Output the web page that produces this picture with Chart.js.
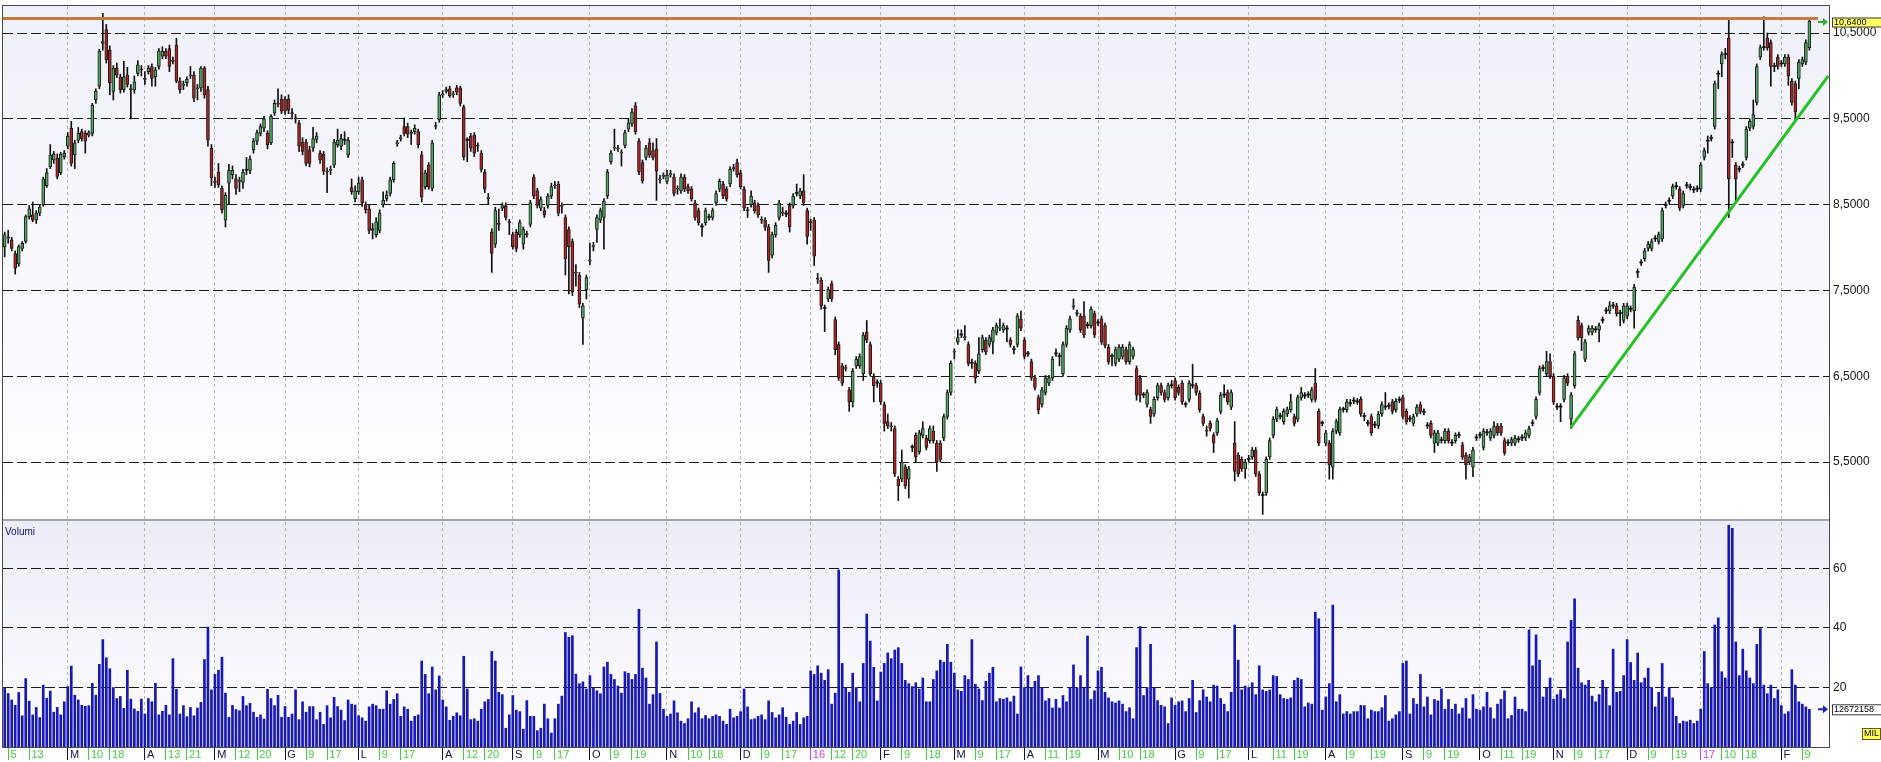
<!DOCTYPE html>
<html>
<head>
<meta charset="utf-8">
<title>Candele giornaliere - MIL</title>
<script src="https://cdn.jsdelivr.net/npm/chart.js@4.4.1/dist/chart.umd.min.js"></script>
<style>
  html, body { margin: 0; padding: 0; background: #fff; }
  #wrap { width: 1881px; height: 762px; }
</style>
</head>
<body>
<div id="wrap"><canvas id="grafico" width="1881" height="762"></canvas></div>
<script>
// prezzi giornalieri, feb 2015 -> feb 2017 (una candela per seduta)
const opens = [
  8.01, 8.12, 8.09, 7.93, 7.81, 7.99, 8.07, 8.36, 8.38, 8.32,
  8.40, 8.50, 8.72, 8.94, 9.02, 9.04, 8.87, 9.06, 9.18, 9.39,
  9.08, 9.25, 9.35, 9.33, 9.31, 9.33, 9.72, 9.88, 10.38, 10.54,
  10.30, 9.82, 10.09, 9.99, 9.84, 10.01, 9.85, 9.84, 10.03, 10.08,
  9.97, 10.05, 10.11, 9.99, 10.11, 10.23, 10.29, 10.32, 10.18, 10.36,
  9.94, 9.89, 9.92, 10.00, 10.01, 9.85, 9.86, 10.09, 9.84, 9.16,
  8.77, 8.88, 8.69, 8.32, 8.75, 8.85, 8.80, 8.77, 8.76, 8.90,
  8.90, 9.14, 9.24, 9.33, 9.39, 9.33, 9.22, 9.57, 9.68, 9.73,
  9.73, 9.73, 9.57, 9.51, 9.45, 9.23, 9.23, 9.14, 9.16, 9.26,
  9.10, 9.09, 8.89, 8.90, 8.96, 9.20, 9.18, 9.25, 9.08, 8.70,
  8.57, 8.65, 8.79, 8.50, 8.45, 8.22, 8.15, 8.20, 8.50, 8.57,
  8.63, 8.79, 9.21, 9.27, 9.41, 9.41, 9.34, 9.35, 9.35, 9.08,
  8.71, 8.96, 8.69, 9.41, 9.49, 9.78, 9.82, 9.85, 9.78, 9.86,
  9.86, 9.64, 9.25, 9.30, 9.31, 9.19, 9.10, 8.88, 8.58, 8.18,
  8.04, 8.28, 8.46, 8.49, 8.30, 8.15, 8.18, 8.15, 8.04, 8.16,
  8.27, 8.82, 8.66, 8.46, 8.43, 8.49, 8.60, 8.73, 8.74, 8.48,
  8.35, 8.21, 8.07, 7.71, 7.68, 7.18, 7.51, 7.84, 8.01, 8.21,
  8.32, 8.35, 8.60, 9.00, 9.16, 9.16, 9.10, 9.19, 9.38, 9.44,
  9.65, 9.24, 8.99, 9.05, 9.22, 9.13, 9.15, 8.79, 8.83, 8.77,
  8.85, 8.82, 8.69, 8.66, 8.82, 8.71, 8.68, 8.52, 8.43, 8.24,
  8.29, 8.35, 8.35, 8.52, 8.68, 8.74, 8.68, 8.74, 8.93, 8.99,
  8.87, 8.68, 8.44, 8.50, 8.52, 8.49, 8.33, 8.32, 8.24, 7.91,
  8.15, 8.35, 8.41, 8.39, 8.49, 8.49, 8.63, 8.60, 8.66, 8.43,
  8.30, 8.32, 7.64, 7.62, 7.29, 7.40, 7.58, 7.16, 6.87, 6.62,
  6.59, 6.34, 6.20, 6.62, 6.62, 6.53, 7.01, 6.87, 6.50, 6.42,
  6.42, 6.17, 5.97, 5.92, 5.89, 5.30, 5.30, 5.44, 5.30, 5.67,
  5.81, 5.62, 5.81, 5.78, 5.75, 5.86, 5.72, 5.72, 5.78, 6.03,
  6.31, 6.78, 6.90, 6.98, 6.95, 6.87, 6.65, 6.65, 6.56, 6.81,
  6.92, 6.87, 6.90, 7.01, 7.06, 7.04, 7.05, 6.92, 6.81, 6.87,
  7.17, 6.92, 6.76, 6.67, 6.48, 6.25, 6.17, 6.31, 6.42, 6.48,
  6.76, 6.73, 6.53, 6.87, 7.04, 7.31, 7.24, 7.20, 7.20, 7.09,
  7.09, 7.23, 7.12, 7.17, 7.09, 6.84, 6.73, 6.65, 6.70, 6.73,
  6.81, 6.67, 6.73, 6.59, 6.48, 6.28, 6.17, 6.11, 6.06, 6.25,
  6.39, 6.31, 6.25, 6.39, 6.45, 6.37, 6.42, 6.17, 6.23, 6.39,
  6.39, 6.30, 6.03, 5.87, 5.95, 5.81, 5.84, 6.09, 6.28, 6.31,
  6.14, 5.72, 5.58, 5.53, 5.42, 5.53, 5.56, 5.64, 5.36, 5.11,
  5.14, 5.56, 5.81, 6.00, 6.03, 5.97, 6.06, 6.11, 6.03, 6.00,
  6.25, 6.27, 6.28, 6.23, 6.42, 6.09, 5.95, 5.72, 5.72, 5.44,
  5.86, 5.84, 6.11, 6.11, 6.18, 6.21, 6.20, 6.23, 6.03, 5.95,
  6.03, 5.93, 5.92, 6.06, 6.14, 6.15, 6.20, 6.11, 6.22, 6.25,
  6.09, 6.00, 5.95, 6.06, 6.17, 6.08, 5.92, 5.95, 5.72, 5.72,
  5.75, 5.75, 5.86, 5.72, 5.75, 5.81, 5.70, 5.58, 5.50, 5.44,
  5.78, 5.81, 5.67, 5.84, 5.78, 5.81, 5.92, 5.92, 5.75, 5.72,
  5.72, 5.72, 5.76, 5.78, 5.78, 5.81, 5.95, 6.03, 6.31, 6.59,
  6.53, 6.67, 6.50, 6.14, 6.14, 6.23, 6.50, 6.00, 6.39, 7.15,
  7.09, 6.70, 7.01, 7.01, 7.04, 7.04, 7.15, 7.26, 7.26, 7.32,
  7.32, 7.23, 7.15, 7.20, 7.28, 7.26, 7.71, 7.82, 7.87, 7.99,
  7.99, 8.10, 8.07, 8.10, 8.49, 8.54, 8.60, 8.71, 8.68, 8.49,
  8.72, 8.70, 8.67, 8.68, 8.68, 9.05, 9.24, 9.27, 9.41, 10.02,
  10.14, 10.25, 10.44, 9.22, 8.96, 8.91, 8.96, 9.05, 9.39, 9.41,
  9.69, 10.22, 10.33, 10.44, 10.39, 10.11, 10.22, 10.14, 10.14, 10.22,
  9.94, 9.91, 9.97, 10.14, 10.16, 10.33
];
const highs = [
  8.18, 8.20, 8.12, 7.96, 8.03, 8.07, 8.38, 8.49, 8.53, 8.43,
  8.50, 8.82, 8.92, 9.20, 9.12, 9.09, 9.11, 9.13, 9.34, 9.47,
  9.25, 9.40, 9.38, 9.36, 9.36, 9.68, 9.85, 10.31, 10.73, 10.60,
  10.35, 10.12, 10.15, 10.02, 10.17, 10.10, 9.90, 10.00, 10.18, 10.12,
  10.05, 10.12, 10.14, 10.10, 10.32, 10.34, 10.32, 10.36, 10.22, 10.44,
  9.98, 9.94, 9.99, 10.11, 10.05, 9.90, 10.11, 10.11, 9.88, 9.20,
  8.82, 8.98, 8.72, 8.64, 8.97, 8.95, 8.85, 8.82, 8.91, 9.05,
  9.07, 9.27, 9.37, 9.44, 9.53, 9.36, 9.55, 9.72, 9.85, 9.78,
  9.76, 9.78, 9.62, 9.55, 9.48, 9.28, 9.26, 9.18, 9.40, 9.34,
  9.13, 9.12, 8.93, 8.95, 9.26, 9.38, 9.32, 9.35, 9.28, 8.80,
  8.72, 8.82, 8.82, 8.53, 8.50, 8.28, 8.35, 8.44, 8.65, 8.66,
  8.82, 9.00, 9.25, 9.31, 9.51, 9.45, 9.37, 9.43, 9.38, 9.12,
  8.90, 8.99, 9.25, 9.46, 9.81, 9.83, 9.87, 9.88, 9.82, 9.89,
  9.88, 9.66, 9.28, 9.33, 9.34, 9.22, 9.13, 8.91, 8.63, 8.22,
  8.47, 8.45, 8.52, 8.52, 8.33, 8.18, 8.21, 8.32, 8.24, 8.19,
  8.55, 8.85, 8.69, 8.59, 8.47, 8.63, 8.75, 8.77, 8.77, 8.52,
  8.38, 8.24, 8.10, 7.80, 7.71, 7.35, 7.68, 8.05, 8.06, 8.38,
  8.46, 8.57, 8.91, 9.13, 9.38, 9.19, 9.14, 9.37, 9.50, 9.62,
  9.69, 9.27, 9.02, 9.19, 9.27, 9.22, 9.27, 8.84, 8.87, 8.90,
  8.90, 8.86, 8.72, 8.86, 8.85, 8.74, 8.71, 8.55, 8.46, 8.28,
  8.46, 8.39, 8.46, 8.66, 8.80, 8.77, 8.71, 8.94, 8.97, 9.03,
  8.90, 8.71, 8.47, 8.66, 8.55, 8.52, 8.36, 8.35, 8.27, 8.18,
  8.29, 8.55, 8.47, 8.43, 8.52, 8.63, 8.74, 8.69, 8.85, 8.46,
  8.33, 8.35, 7.70, 7.65, 7.33, 7.54, 7.61, 7.19, 6.90, 6.65,
  6.63, 6.37, 6.59, 6.73, 6.76, 7.01, 7.15, 6.90, 6.53, 6.46,
  6.45, 6.20, 6.06, 5.96, 5.92, 5.33, 5.64, 5.47, 5.45, 5.70,
  5.84, 5.87, 5.97, 5.81, 5.92, 5.92, 5.75, 5.75, 6.06, 6.34,
  6.68, 6.82, 7.04, 7.04, 7.09, 6.90, 6.70, 6.68, 6.95, 6.98,
  6.95, 6.98, 7.07, 7.12, 7.17, 7.12, 7.09, 6.95, 6.85, 7.23,
  7.26, 6.95, 6.79, 6.70, 6.51, 6.28, 6.37, 6.51, 6.51, 6.73,
  6.82, 6.77, 6.90, 7.09, 7.20, 7.40, 7.27, 7.23, 7.37, 7.13,
  7.31, 7.26, 7.16, 7.20, 7.12, 6.87, 6.76, 6.84, 6.87, 6.87,
  6.84, 6.90, 6.84, 6.62, 6.51, 6.31, 6.34, 6.14, 6.26, 6.42,
  6.42, 6.34, 6.42, 6.45, 6.48, 6.40, 6.45, 6.20, 6.45, 6.64,
  6.42, 6.33, 6.06, 5.92, 5.98, 5.84, 6.01, 6.31, 6.40, 6.34,
  6.34, 5.97, 5.61, 5.56, 5.53, 5.58, 5.67, 5.67, 5.39, 5.15,
  5.56, 5.78, 6.03, 6.14, 6.07, 6.12, 6.14, 6.29, 6.06, 6.28,
  6.37, 6.31, 6.32, 6.37, 6.59, 6.12, 5.98, 5.87, 5.75, 5.89,
  6.00, 6.14, 6.14, 6.23, 6.23, 6.25, 6.24, 6.26, 6.07, 5.99,
  6.06, 5.97, 6.09, 6.20, 6.31, 6.19, 6.23, 6.24, 6.26, 6.28,
  6.12, 6.04, 6.06, 6.17, 6.20, 6.12, 5.96, 5.98, 5.87, 5.87,
  5.79, 5.89, 5.89, 5.76, 5.84, 5.85, 5.73, 5.61, 5.59, 5.67,
  5.82, 5.85, 5.89, 5.88, 5.89, 5.97, 5.95, 5.95, 5.78, 5.76,
  5.79, 5.81, 5.80, 5.82, 5.87, 5.92, 5.99, 6.26, 6.62, 6.63,
  6.79, 6.76, 6.53, 6.18, 6.18, 6.51, 6.53, 6.31, 6.79, 7.20,
  7.12, 6.93, 7.09, 7.09, 7.08, 7.12, 7.19, 7.30, 7.37, 7.36,
  7.35, 7.27, 7.35, 7.35, 7.32, 7.57, 7.75, 7.86, 7.99, 8.07,
  8.10, 8.14, 8.18, 8.46, 8.53, 8.58, 8.74, 8.76, 8.71, 8.66,
  8.76, 8.74, 8.71, 8.72, 8.99, 9.16, 9.30, 9.31, 9.94, 10.06,
  10.28, 10.32, 10.67, 9.26, 8.99, 8.95, 9.00, 9.41, 9.50, 9.72,
  10.14, 10.36, 10.69, 10.50, 10.42, 10.15, 10.25, 10.18, 10.25, 10.25,
  9.97, 9.94, 10.19, 10.22, 10.42, 10.67
];
const lows = [
  7.89, 8.05, 7.96, 7.69, 7.78, 7.96, 8.05, 8.33, 8.30, 8.28,
  8.37, 8.48, 8.70, 8.92, 8.98, 8.80, 8.85, 9.03, 9.15, 8.95,
  8.92, 9.22, 9.24, 9.10, 9.29, 9.30, 9.68, 9.85, 10.30, 10.15,
  9.78, 9.72, 9.98, 9.80, 9.81, 9.87, 9.50, 9.80, 10.00, 10.00,
  9.90, 10.02, 9.88, 9.88, 10.08, 10.20, 10.20, 10.05, 10.14, 9.92,
  9.80, 9.84, 9.88, 9.97, 9.70, 9.72, 9.82, 9.74, 9.18, 8.72,
  8.70, 8.70, 8.40, 8.24, 8.50, 8.80, 8.62, 8.65, 8.69, 8.85,
  8.86, 9.10, 9.20, 9.30, 9.35, 9.15, 9.20, 9.54, 9.64, 9.56,
  9.55, 9.56, 9.50, 9.45, 9.12, 9.08, 8.95, 8.94, 9.12, 9.22,
  8.98, 8.85, 8.64, 8.85, 8.93, 9.17, 9.14, 9.20, 9.05, 8.62,
  8.53, 8.62, 8.48, 8.40, 8.16, 8.10, 8.12, 8.17, 8.47, 8.54,
  8.60, 8.76, 9.18, 9.24, 9.30, 9.28, 9.20, 9.32, 9.16, 8.53,
  8.68, 8.68, 8.66, 9.38, 9.46, 9.75, 9.80, 9.75, 9.75, 9.78,
  9.65, 9.02, 9.00, 9.12, 9.06, 9.12, 8.88, 8.64, 8.50, 7.71,
  8.00, 8.20, 8.43, 8.32, 8.15, 7.98, 7.95, 8.12, 7.98, 8.12,
  8.24, 8.57, 8.46, 8.43, 8.35, 8.46, 8.57, 8.69, 8.37, 8.40,
  7.68, 7.46, 7.44, 7.55, 7.30, 6.87, 7.40, 7.80, 7.96, 8.06,
  8.29, 7.98, 8.57, 8.97, 9.13, 9.12, 8.95, 9.16, 9.35, 9.41,
  9.32, 8.85, 8.75, 9.02, 9.05, 9.02, 8.55, 8.75, 8.80, 8.74,
  8.82, 8.60, 8.62, 8.63, 8.65, 8.63, 8.54, 8.32, 8.26, 8.13,
  8.26, 8.32, 8.32, 8.49, 8.65, 8.57, 8.54, 8.71, 8.89, 8.82,
  8.68, 8.43, 8.35, 8.47, 8.40, 8.35, 8.28, 8.20, 7.71, 7.88,
  8.12, 8.32, 8.37, 8.36, 8.18, 8.46, 8.60, 8.57, 8.49, 8.04,
  8.20, 7.79, 7.58, 7.28, 7.02, 7.37, 7.37, 6.75, 6.45, 6.39,
  6.56, 6.09, 6.14, 6.59, 6.59, 6.45, 6.89, 6.50, 6.20, 6.37,
  6.17, 5.86, 5.89, 5.86, 5.33, 5.05, 5.27, 5.19, 5.08, 5.62,
  5.50, 5.59, 5.78, 5.64, 5.72, 5.72, 5.39, 5.50, 5.75, 6.00,
  6.28, 6.70, 6.87, 6.95, 6.92, 6.62, 6.59, 6.42, 6.53, 6.78,
  6.75, 6.84, 6.76, 6.98, 7.03, 7.01, 6.90, 6.84, 6.76, 6.84,
  7.03, 6.70, 6.73, 6.45, 6.34, 6.06, 6.14, 6.28, 6.39, 6.45,
  6.73, 6.62, 6.50, 6.84, 7.01, 7.28, 7.20, 7.01, 6.95, 7.06,
  7.06, 6.95, 7.09, 6.87, 6.83, 6.64, 6.62, 6.62, 6.67, 6.70,
  6.64, 6.64, 6.70, 6.22, 6.20, 6.25, 6.14, 5.95, 6.03, 6.22,
  6.28, 6.20, 6.22, 6.36, 6.22, 6.28, 6.17, 6.14, 6.20, 6.36,
  6.28, 6.08, 5.92, 5.80, 5.86, 5.61, 5.81, 6.06, 6.25, 6.17,
  6.11, 5.28, 5.33, 5.39, 5.31, 5.50, 5.53, 5.33, 5.11, 4.89,
  5.11, 5.53, 5.78, 5.97, 6.00, 5.94, 6.03, 6.08, 5.92, 5.97,
  6.22, 6.24, 6.25, 6.20, 6.20, 5.69, 5.92, 5.69, 5.30, 5.30,
  5.83, 5.81, 6.08, 6.08, 6.15, 6.18, 6.17, 6.03, 5.98, 5.92,
  5.81, 5.90, 5.89, 6.03, 6.11, 6.12, 6.06, 6.08, 6.19, 6.00,
  5.94, 5.97, 5.92, 6.03, 6.06, 6.05, 5.89, 5.78, 5.61, 5.69,
  5.72, 5.72, 5.72, 5.69, 5.72, 5.78, 5.53, 5.30, 5.47, 5.33,
  5.75, 5.78, 5.64, 5.81, 5.75, 5.78, 5.81, 5.81, 5.58, 5.69,
  5.69, 5.69, 5.73, 5.75, 5.75, 5.78, 5.92, 6.00, 6.28, 6.56,
  6.50, 6.47, 6.17, 6.11, 5.97, 6.20, 6.39, 5.89, 6.36, 6.92,
  6.80, 6.67, 6.98, 6.98, 7.01, 6.90, 7.12, 7.23, 7.23, 7.29,
  7.20, 7.09, 7.12, 7.17, 7.25, 7.06, 7.65, 7.79, 7.84, 7.96,
  7.96, 8.07, 8.04, 8.07, 8.46, 8.51, 8.57, 8.68, 8.43, 8.46,
  8.69, 8.67, 8.64, 8.65, 8.65, 9.02, 9.10, 9.24, 9.38, 9.85,
  9.99, 10.20, 8.35, 9.05, 8.54, 8.88, 8.93, 9.02, 9.36, 9.38,
  9.66, 10.19, 10.30, 10.30, 9.88, 10.05, 10.08, 10.11, 10.11, 9.89,
  9.66, 9.47, 9.85, 10.11, 10.13, 10.30
];
const closes = [
  8.15, 8.11, 7.99, 7.76, 8.01, 8.05, 8.36, 8.45, 8.32, 8.40,
  8.47, 8.80, 8.87, 9.08, 9.09, 8.83, 9.09, 9.10, 9.30, 8.98,
  9.22, 9.33, 9.27, 9.24, 9.34, 9.66, 9.82, 10.29, 10.40, 10.19,
  9.92, 10.09, 10.01, 9.84, 9.99, 9.90, 9.84, 9.93, 10.13, 10.07,
  9.96, 10.09, 9.97, 10.07, 10.29, 10.29, 10.23, 10.11, 10.17, 9.94,
  9.84, 9.90, 9.96, 10.01, 9.74, 9.86, 10.09, 9.78, 9.25, 8.81,
  8.76, 8.73, 8.44, 8.61, 8.90, 8.90, 8.69, 8.78, 8.88, 8.90,
  9.03, 9.24, 9.34, 9.41, 9.50, 9.20, 9.53, 9.68, 9.67, 9.59,
  9.59, 9.60, 9.56, 9.50, 9.18, 9.12, 8.98, 8.98, 9.27, 9.30,
  9.02, 8.89, 8.88, 8.91, 9.23, 9.25, 9.27, 9.25, 9.25, 8.65,
  8.66, 8.75, 8.52, 8.44, 8.20, 8.20, 8.30, 8.40, 8.55, 8.61,
  8.79, 8.98, 9.22, 9.28, 9.33, 9.32, 9.33, 9.39, 9.20, 8.59,
  8.87, 8.71, 9.22, 9.42, 9.78, 9.79, 9.84, 9.77, 9.79, 9.81,
  9.68, 9.06, 9.25, 9.16, 9.10, 9.18, 8.91, 8.68, 8.57, 7.93,
  8.43, 8.27, 8.49, 8.35, 8.29, 8.01, 7.99, 8.29, 8.21, 8.15,
  8.52, 8.60, 8.49, 8.56, 8.38, 8.60, 8.71, 8.72, 8.40, 8.49,
  7.87, 8.01, 7.48, 7.70, 7.34, 7.32, 7.65, 7.85, 8.02, 8.35,
  8.43, 8.54, 8.88, 9.10, 9.17, 9.15, 9.11, 9.34, 9.45, 9.58,
  9.35, 8.88, 8.78, 9.16, 9.08, 9.05, 8.89, 8.80, 8.84, 8.84,
  8.86, 8.63, 8.68, 8.82, 8.68, 8.66, 8.57, 8.35, 8.29, 8.24,
  8.43, 8.35, 8.43, 8.63, 8.77, 8.60, 8.57, 8.91, 8.92, 8.85,
  8.71, 8.46, 8.43, 8.60, 8.43, 8.38, 8.32, 8.24, 7.85, 8.15,
  8.26, 8.52, 8.40, 8.39, 8.24, 8.60, 8.63, 8.66, 8.52, 8.13,
  8.29, 7.90, 7.63, 7.32, 7.29, 7.51, 7.40, 6.81, 6.48, 6.42,
  6.60, 6.20, 6.56, 6.70, 6.73, 6.98, 6.92, 6.53, 6.39, 6.42,
  6.20, 5.95, 5.92, 5.91, 5.36, 5.22, 5.50, 5.22, 5.42, 5.67,
  5.56, 5.84, 5.89, 5.67, 5.89, 5.75, 5.50, 5.53, 6.03, 6.31,
  6.65, 6.79, 6.95, 6.98, 6.96, 6.65, 6.65, 6.48, 6.76, 6.95,
  6.78, 6.95, 7.04, 7.09, 7.07, 7.09, 7.05, 6.87, 6.81, 7.20,
  7.06, 6.73, 6.76, 6.48, 6.37, 6.11, 6.34, 6.48, 6.48, 6.70,
  6.76, 6.73, 6.87, 7.06, 7.17, 7.32, 7.23, 7.04, 6.98, 7.09,
  7.28, 6.98, 7.12, 6.90, 6.86, 6.67, 6.73, 6.81, 6.84, 6.84,
  6.67, 6.87, 6.81, 6.28, 6.28, 6.28, 6.31, 6.03, 6.23, 6.39,
  6.31, 6.23, 6.39, 6.39, 6.25, 6.31, 6.20, 6.17, 6.42, 6.39,
  6.31, 6.11, 5.95, 5.86, 5.89, 5.72, 5.98, 6.28, 6.28, 6.20,
  6.31, 5.39, 5.36, 5.42, 5.50, 5.53, 5.64, 5.36, 5.14, 5.11,
  5.53, 5.75, 6.00, 6.11, 6.03, 6.09, 6.11, 6.20, 5.95, 6.25,
  6.31, 6.27, 6.28, 6.34, 6.23, 5.72, 5.95, 5.84, 5.47, 5.86,
  5.97, 6.11, 6.11, 6.20, 6.18, 6.21, 6.20, 6.06, 6.03, 5.95,
  5.84, 5.93, 6.06, 6.17, 6.14, 6.15, 6.09, 6.21, 6.22, 6.03,
  5.97, 6.00, 6.03, 6.14, 6.09, 6.08, 5.92, 5.81, 5.84, 5.84,
  5.75, 5.86, 5.75, 5.72, 5.81, 5.81, 5.56, 5.47, 5.56, 5.64,
  5.78, 5.81, 5.86, 5.84, 5.86, 5.92, 5.84, 5.84, 5.61, 5.72,
  5.76, 5.78, 5.76, 5.78, 5.84, 5.89, 5.95, 6.23, 6.59, 6.59,
  6.67, 6.50, 6.20, 6.14, 6.14, 6.48, 6.42, 6.28, 6.76, 6.95,
  6.95, 6.90, 7.06, 7.06, 7.04, 7.09, 7.15, 7.26, 7.32, 7.32,
  7.23, 7.23, 7.32, 7.32, 7.28, 7.54, 7.71, 7.82, 7.96, 8.04,
  8.07, 8.10, 8.15, 8.43, 8.49, 8.54, 8.71, 8.71, 8.46, 8.63,
  8.72, 8.70, 8.67, 8.68, 8.96, 9.13, 9.24, 9.27, 9.91, 10.02,
  10.25, 10.25, 8.80, 9.22, 8.80, 8.91, 8.96, 9.38, 9.47, 9.55,
  10.11, 10.33, 10.33, 10.33, 10.11, 10.11, 10.11, 10.14, 10.22, 10.00,
  9.69, 9.58, 10.16, 10.19, 10.39, 10.64
];
// volumi in milioni di pezzi
const volumes = [
  20, 18, 15.8, 14, 18.3, 10.5, 23, 15.4, 10.8, 13.3,
  9.9, 20.8, 16.4, 18.8, 11.7, 13.3, 10.8, 15.2, 20.3, 27.2,
  17.4, 15.8, 14, 13.7, 13.9, 21.4, 17.4, 27.8, 36.1, 30,
  26.3, 20, 16.3, 17, 13, 25.8, 16.1, 12.8, 12, 16.1,
  11.1, 16.3, 15.2, 21.4, 10.8, 12, 14, 10.8, 29.7, 19.4,
  11.1, 13.9, 10.2, 13.3, 10.5, 13.1, 15, 29.4, 40.3, 19.2,
  24.4, 25.8, 30.2, 18.1, 10, 14, 12.6, 12.2, 17, 13.9,
  14.7, 11.7, 10, 10.8, 9.4, 19.4, 16.3, 13.9, 17.4, 10,
  13.6, 10, 11.1, 19.2, 9.2, 15.2, 11.7, 13.6, 13.6, 9.2,
  11.7, 7.6, 13.9, 9.8, 16.7, 13.6, 12.4, 8.9, 15.8, 14.4,
  14.1, 10.5, 9.8, 8.7, 13.5, 14.4, 13.9, 12.7, 12.7, 18.9,
  14.4, 16, 17.9, 10.3, 13.5, 12.7, 8.7, 10.3, 10.8, 28.9,
  24.4, 17.9, 26.9, 19.2, 23.9, 15.8, 13.5, 9, 10.3, 11.5,
  10.5, 30.5, 19.5, 9.2, 9.5, 8.7, 12.7, 15.2, 16, 32.1,
  28.9, 18.4, 17.6, 6.3, 10.8, 17.3, 12.4, 11.9, 6, 15.6,
  10.3, 10.3, 5.5, 6.3, 14.4, 9.5, 4.7, 9.5, 14.4, 17.1,
  38.5, 36.9, 37.4, 24.5, 21.3, 21.9, 19.5, 24, 20, 18.9,
  17.9, 26.9, 28.5, 24.4, 22.7, 20.5, 18.1, 25.3, 24.8, 22.7,
  24.4, 46.3, 26.5, 23.2, 14.4, 17.6, 35.3, 18, 12.7, 10.3,
  11.1, 15.5, 11.5, 8.7, 7.9, 9.5, 15.2, 11.5, 13.2, 9.5,
  10.6, 9.5, 10.3, 10.8, 10.3, 8.7, 7.6, 12.7, 9.8, 10.3,
  11.9, 19.5, 13.5, 9.2, 9.5, 10.3, 10.8, 9.2, 15.5, 11.6,
  9.8, 10.8, 13.2, 10, 7.6, 8.7, 11.6, 7.6, 9.8, 10.3,
  25.6, 24.4, 27.3, 24.8, 22.4, 26, 14.4, 18.1, 59.5, 28.1,
  20, 18.4, 24.8, 20, 15.2, 28.1, 44.7, 35.6, 26.8, 15.5,
  25.2, 28.1, 31.6, 29.7, 32.6, 33.4, 28.1, 22.4, 21.3, 20.3,
  21.6, 19.5, 23.2, 15.2, 15.2, 22.7, 25.6, 29.2, 28.5, 34.5,
  28.5, 24.8, 19.2, 18.7, 24, 22.7, 36.1, 21.1, 19.5, 15.6,
  22.1, 24.8, 26.8, 15.2, 16.3, 16, 16.5, 15.2, 17.1, 11.1,
  26.9, 20, 24, 20, 22.1, 24, 20, 15.5, 16.3, 13.1,
  16, 13.1, 17.3, 15.2, 20, 27.6, 20, 24, 20, 37.3,
  16, 18.9, 25.6, 26.8, 18.4, 16.5, 15.2, 14.8, 15.5, 14.4,
  11.9, 13.2, 9.5, 33.4, 40.5, 17.3, 20, 34.5, 20, 15.6,
  14, 13.5, 7.9, 16.5, 14, 15.2, 15.5, 11.9, 16.3, 22.4,
  11.6, 15.6, 19.2, 16.8, 15.2, 20.8, 20.5, 16.3, 14.4, 11.9,
  18.4, 41, 29.2, 19.2, 20.5, 20, 21.6, 17.6, 27.3, 19.2,
  18.7, 19.2, 24, 23.7, 17.6, 16.3, 16, 16.5, 22.4, 23.2,
  22.7, 13.5, 14.8, 14.4, 45.3, 43.1, 12.4, 16.8, 21.3, 47.7,
  15.2, 17.6, 11.1, 11.9, 11.1, 11.9, 11.9, 14, 13.9, 9.5,
  12.4, 11.9, 11.9, 13.2, 17.3, 8.7, 9.5, 10.8, 11.9, 28.1,
  28.9, 11.1, 16.3, 14.4, 24.4, 13.5, 16.8, 10.8, 16, 15.5,
  19.5, 12.7, 16, 12.7, 14.4, 11.1, 13.1, 16.3, 9.5, 17.6,
  12.7, 12.3, 13.5, 18.4, 13.2, 9.5, 14.4, 16, 18.9, 9.5,
  10.6, 16.8, 12.7, 12.7, 11.9, 39.4, 27.3, 37.7, 29.2, 16.8,
  20, 23.2, 16, 17.6, 19.2, 16.3, 35.3, 42.6, 49.8, 26.5,
  21.6, 20.8, 22.4, 17.1, 15.2, 17.6, 22.4, 19.7, 13.9, 32.9,
  18.4, 18.7, 24, 36.1, 28.4, 22.4, 31.6, 21.6, 23.2, 26.5,
  20, 13.5, 18.4, 28.1, 16.8, 20, 16.5, 10.3, 7.9, 8.7,
  8.5, 9.0, 7.9, 8.7, 12.7, 32.1, 21.3, 20, 41, 43.4,
  25.3, 23.2, 74.5, 73.5, 35.3, 24, 32.9, 25.6, 23.2, 21.3,
  34.5, 39.8, 20.8, 17.9, 20.8, 16.3, 19.2, 13.9, 11.1, 11.9,
  26, 20.8, 15.2, 14.4, 13.5, 12.672158
];

// etichette asse tempo: indice della seduta, testo, tipo (d giorno, m mese, y anno)
const tickPos = [1, 7, 18, 24, 30, 40, 46, 52, 60, 66, 72, 80, 86, 92, 101, 107, 113,
  125, 131, 137, 145, 151, 157, 167, 173, 179, 189, 195, 201, 210, 216, 222,
  230, 236, 242, 250, 256, 263, 271, 277, 283, 291, 297, 303, 312, 318, 324,
  334, 340, 346, 355, 362, 368, 377, 383, 390, 399, 405, 411, 421, 427, 433,
  442, 448, 454, 463, 469, 476, 484, 490, 496, 507, 513];
const tickText = ['5', '13', 'M', '10', '18', 'A', '13', '21', 'M', '12', '20', 'G', '9', '17', 'L', '9', '17',
  'A', '12', '20', 'S', '9', '17', 'O', '9', '19', 'N', '10', '18', 'D', '9', '17',
  '16', '12', '20', 'F', '9', '18', 'M', '9', '17', 'A', '11', '19', 'M', '10', '18',
  'G', '9', '17', 'L', '11', '19', 'A', '9', '19', 'S', '9', '19', 'O', '11', '19',
  'N', '9', '17', 'D', '9', '19', '17', '10', '18', 'F', '9'];
const tickKind = ['d', 'd', 'm', 'd', 'd', 'm', 'd', 'd', 'm', 'd', 'd', 'm', 'd', 'd', 'm', 'd', 'd',
  'm', 'd', 'd', 'm', 'd', 'd', 'm', 'd', 'd', 'm', 'd', 'd', 'm', 'd', 'd',
  'y', 'd', 'd', 'm', 'd', 'd', 'm', 'd', 'd', 'm', 'd', 'd', 'm', 'd', 'd',
  'm', 'd', 'd', 'm', 'd', 'd', 'm', 'd', 'd', 'm', 'd', 'd', 'm', 'd', 'd',
  'm', 'd', 'd', 'm', 'd', 'd', 'y', 'd', 'd', 'm', 'd'];

const priceTicks = [5.5, 6.5, 7.5, 8.5, 9.5, 10.5];
const volumeTicks = [20, 40, 60];
const resistenza = 10.67;
const trendLine = [{x: 446.9, y: 5.90}, {x: 520.4, y: 10.0}];

const FONT = "'Liberation Sans', Arial, sans-serif";
const kindColor = { d: '#3fcf3f', m: '#101048', y: '#d040d0' };

const idx = closes.map((_, i) => i);
const isFlat = i => Math.abs(closes[i] - opens[i]) < 0.006;
const isUp = i => closes[i] >= opens[i];

const panes = {
  id: 'panes',
  beforeDraw(chart) {
    const { ctx, chartArea: a, scales: { yp, yv } } = chart;
    ctx.save();
    ctx.fillStyle = '#fff';
    ctx.fillRect(0, 0, chart.width, chart.height);
    let g = ctx.createLinearGradient(0, yp.top, 0, yp.bottom);
    g.addColorStop(0, '#f0f0f9');
    g.addColorStop(1, '#ffffff');
    ctx.fillStyle = g;
    ctx.fillRect(a.left, yp.top, a.right - a.left, yp.bottom - yp.top);
    g = ctx.createLinearGradient(0, yv.top, 0, yv.bottom);
    g.addColorStop(0, '#ececf7');
    g.addColorStop(1, '#fdfdff');
    ctx.fillStyle = g;
    ctx.fillRect(a.left, yv.top, a.right - a.left, yv.bottom - yv.top);
    ctx.restore();
  },
  afterDraw(chart) {
    const { ctx, chartArea: a, scales: { yp, yv } } = chart;
    const n = closes.length;
    ctx.save();
    // separatore tra i due riquadri
    ctx.strokeStyle = '#a4a4ac';
    ctx.lineWidth = 2;
    ctx.beginPath();
    ctx.moveTo(a.left, yv.top);
    ctx.lineTo(a.right, yv.top);
    ctx.stroke();
    // cornice
    ctx.strokeStyle = '#4a4a4a';
    ctx.lineWidth = 1;
    ctx.strokeRect(a.left - 0.5, a.top - 0.5, a.right - a.left + 1, a.bottom - a.top + 1);

    ctx.font = '10px ' + FONT;
    ctx.fillStyle = '#14146a';
    ctx.textBaseline = 'middle';
    ctx.textAlign = 'left';
    ctx.fillText('Volumi', a.left + 2, yv.top + 12);

    // ultimo prezzo
    const py = yp.getPixelForValue(closes[n - 1]);
    ctx.fillStyle = '#30b030';
    ctx.strokeStyle = '#30b030';
    ctx.lineWidth = 2;
    ctx.beginPath();
    ctx.moveTo(a.right - 11, py + 1);
    ctx.lineTo(a.right - 5, py + 1);
    ctx.stroke();
    ctx.beginPath();
    ctx.moveTo(a.right - 6, py - 3);
    ctx.lineTo(a.right - 1, py + 1);
    ctx.lineTo(a.right - 6, py + 5);
    ctx.closePath();
    ctx.fill();
    ctx.fillStyle = '#ffff6a';
    ctx.fillRect(a.right + 3, py - 3.5, 50, 10);
    ctx.strokeStyle = '#3a3a3a';
    ctx.lineWidth = 1;
    ctx.strokeRect(a.right + 3.5, py - 3, 50, 9);
    ctx.fillStyle = '#000';
    ctx.font = '9px ' + FONT;
    ctx.fillText(closes[n - 1].toFixed(4).replace('.', ','), a.right + 5, py + 1.5);

    // ultimo volume
    const vy = yv.getPixelForValue(volumes[n - 1]);
    ctx.fillStyle = '#2222c0';
    ctx.strokeStyle = '#2222c0';
    ctx.lineWidth = 2;
    ctx.beginPath();
    ctx.moveTo(a.right - 11, vy);
    ctx.lineTo(a.right - 5, vy);
    ctx.stroke();
    ctx.beginPath();
    ctx.moveTo(a.right - 6, vy - 4);
    ctx.lineTo(a.right - 1, vy);
    ctx.lineTo(a.right - 6, vy + 4);
    ctx.closePath();
    ctx.fill();
    ctx.fillStyle = '#fff';
    ctx.fillRect(a.right + 3, vy - 5, 50, 10);
    ctx.strokeStyle = '#3a3a3a';
    ctx.lineWidth = 1;
    ctx.strokeRect(a.right + 3.5, vy - 4.5, 50, 10);
    ctx.fillStyle = '#000';
    ctx.fillText(String(Math.round(volumes[n - 1] * 1e6)), a.right + 5, vy + 0.5);

    // mercato
    ctx.fillStyle = '#ffff50';
    ctx.fillRect(a.right + 33, yv.bottom - 19, 18, 11);
    ctx.strokeStyle = '#5a5a2a';
    ctx.strokeRect(a.right + 33.5, yv.bottom - 18.5, 18, 11);
    ctx.fillStyle = '#000';
    ctx.fillText('MIL', a.right + 35, yv.bottom - 13);
    ctx.restore();
  }
};

new Chart(document.getElementById('grafico'), {
  type: 'bar',
  data: {
    datasets: [
      {
        type: 'line',
        data: [{ x: -0.5, y: resistenza }, { x: 517.5, y: resistenza }],
        yAxisID: 'yp',
        borderColor: '#c27b40',
        borderWidth: 3,
        pointRadius: 0,
        order: 1
      },
      {
        type: 'line',
        data: trendLine,
        yAxisID: 'yp',
        borderColor: '#26c026',
        borderWidth: 3,
        pointRadius: 0,
        order: 0
      },
      {
        data: idx.map(i => ({ x: i, y: [lows[i], highs[i]] })),
        yAxisID: 'yp',
        backgroundColor: '#111',
        barThickness: 1,
        grouped: false,
        order: 4
      },
      {
        data: idx.map(i => ({ x: i, y: [opens[i], closes[i]] })),
        yAxisID: 'yp',
        backgroundColor: c => isFlat(c.dataIndex) ? '#151515' : (isUp(c.dataIndex) ? '#4fa860' : '#b02424'),
        borderColor: '#1c1c1c',
        borderWidth: c => isFlat(c.dataIndex) ? 0 : 1,
        borderSkipped: false,
        barThickness: 3,
        minBarLength: 1,
        grouped: false,
        order: 3
      },
      {
        data: idx.map(i => ({ x: i, y: volumes[i] })),
        yAxisID: 'yv',
        backgroundColor: '#1818b4',
        barThickness: 2,
        grouped: false,
        order: 4
      }
    ]
  },
  options: {
    responsive: false,
    animation: false,
    devicePixelRatio: 1,
    events: [],
    layout: { padding: { top: 6, left: 3, right: 0, bottom: 0 } },
    plugins: { legend: { display: false }, tooltip: { enabled: false } },
    scales: {
      x: {
        type: 'linear',
        position: 'bottom',
        min: -0.485,
        max: 520.6,
        bounds: 'data',
        offset: false,
        afterBuildTicks: s => { s.ticks = tickPos.map(v => ({ value: v })); },
        afterFit: s => { s.height = 15; s.paddingLeft = 0; s.paddingRight = 0; },
        ticks: {
          autoSkip: false,
          maxRotation: 0,
          minRotation: 0,
          align: 'start',
          padding: -12,
          font: { family: FONT, size: 11 },
          color: c => kindColor[tickKind[c.index]],
          callback: (v, i) => '\u2009' + tickText[i]
        },
        grid: {
          offset: false,
          color: c => tickKind[c.index] === 'd' ? 'rgba(0,0,0,0)' : '#b2b2ba',
          lineWidth: 1,
          tickLength: 13,
          tickWidth: 1,
          tickColor: c => kindColor[tickKind[c.index]]
        },
        border: { display: false, dash: [3, 3] }
      },
      yp: {
        type: 'linear',
        position: 'right',
        stack: 'riquadri',
        stackWeight: 514,
        min: 4.824,
        max: 10.815,
        bounds: 'data',
        afterBuildTicks: s => { s.ticks = priceTicks.map(v => ({ value: v })); },
        afterFit: s => { s.width = 52; s.paddingTop = 0; s.paddingBottom = 0; },
        ticks: {
          padding: 4,
          font: { family: FONT, size: 12 },
          color: '#151515',
          callback: v => v.toFixed(4).replace('.', ',')
        },
        grid: { color: '#1a1a1a', lineWidth: 1, drawTicks: false },
        border: { display: false, dash: [10, 4] }
      },
      yv: {
        type: 'linear',
        position: 'right',
        stack: 'riquadri',
        stackWeight: 227,
        min: 0,
        max: 76.3,
        bounds: 'data',
        afterBuildTicks: s => { s.ticks = volumeTicks.map(v => ({ value: v })); },
        afterFit: s => { s.width = 52; s.paddingTop = 0; s.paddingBottom = 0; },
        ticks: {
          padding: 4,
          font: { family: FONT, size: 12 },
          color: '#151515',
          callback: v => String(v)
        },
        grid: { color: '#1a1a1a', lineWidth: 1, drawTicks: false },
        border: { display: false, dash: [10, 4] }
      }
    }
  },
  plugins: [panes]
});
</script>
</body>
</html>
